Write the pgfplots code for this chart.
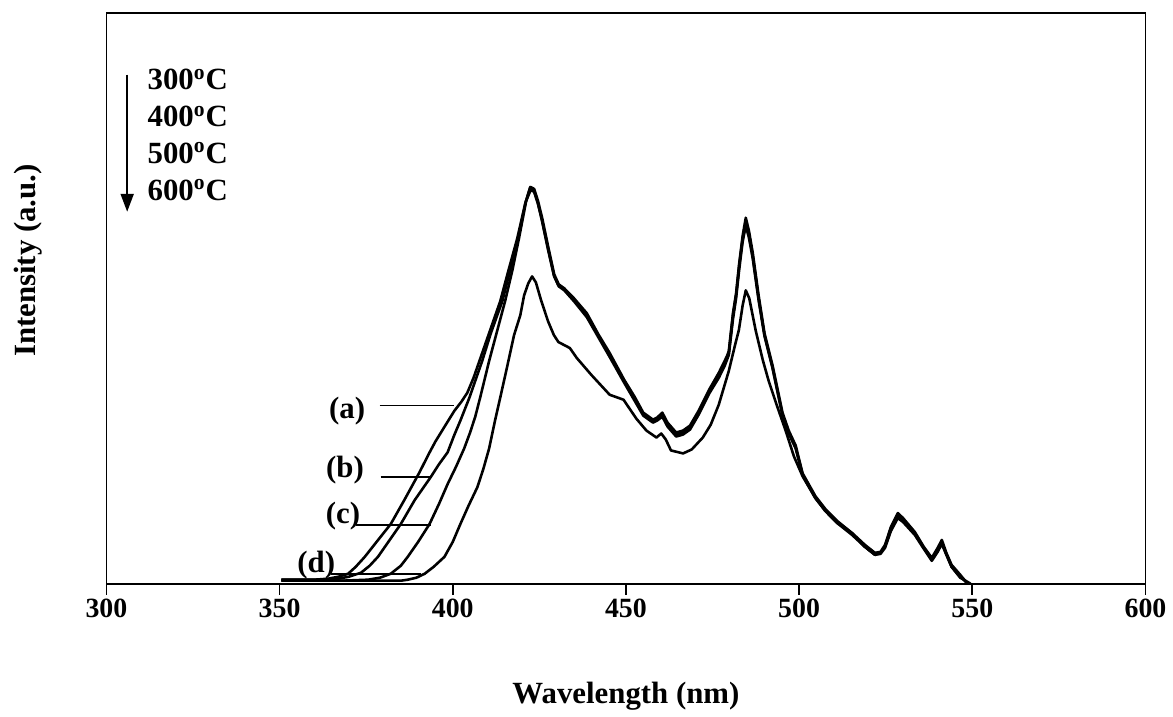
\documentclass[border=0pt]{standalone}
\usepackage{fontspec}
\setmainfont{Liberation Serif}
\usepackage{pgfplots}
\usepackage{pgfplotstable}
\pgfplotsset{compat=1.18}
\usetikzlibrary{arrows.meta}

\pgfplotstableread{
x y
350.5 4
360.0 4
364.0 5
367.0 7
369.8 10
372.0 17
374.6 27
378.0 42
382.1 60
386.0 84
390.4 112
393.0 130
395.0 143
398.0 160
400.5 174
402.5 183
404.2 192
406.0 207
407.7 224
410.5 252
413.7 284
416.0 314
418.6 347
420.9 382
422.3 398
423.4 396
424.5 384
425.7 366
427.5 336
429.2 310
430.5 300
432.1 296
435.0 285
438.7 270
442.0 250
445.3 230
449.5 204
452.5 186
455.0 170
457.8 163
459.0 165
460.5 170
462.0 160
464.5 150
466.5 152
468.5 157
471.0 172
474.0 193
476.8 210
478.5 222
479.7 232
480.9 270
481.8 290
482.7 320
483.7 347
484.6 365
485.5 352
486.6 330
488.3 287
490.0 250
492.3 218
495.2 170
497.0 152
499.0 137
501.0 110
504.7 87
507.6 74
511.0 62
515.3 50
519.0 38
521.9 30
523.5 31
524.8 37
526.5 55
528.5 68
530.0 64
533.4 50
536.0 36
538.3 25
540.0 34
541.2 42
542.5 30
544.0 18
546.5 8
548.6 0
}\dataA

\pgfplotstableread{
x y
350.5 4
362.0 4
366.9 5
370.0 7
373.5 11
376.0 18
378.4 27
382.0 45
385.0 60
389.0 84
393.6 107
396.0 120
398.5 132
400.5 150
402.2 164
404.8 187
406.5 204
408.5 224
411.0 252
414.3 284
416.5 314
419.0 349
421.0 383
422.4 399
423.5 397
424.6 385
425.8 368
427.6 338
429.3 311
430.6 301
432.2 297
435.0 287
438.7 272
442.0 251
445.3 232
449.5 205
452.5 188
455.0 172
457.8 165
459.0 167
460.5 172
462.0 162
464.5 152
466.5 154
468.5 159
471.0 174
474.0 195
476.8 212
478.5 224
479.3 230
479.7 234
480.9 272
481.8 292
482.7 322
483.7 350
484.6 368
485.5 355
486.6 333
488.3 290
490.0 252
492.3 220
495.2 172
497.0 154
499.0 139
501.0 111
504.7 88
507.6 75
511.0 63
515.3 51
519.0 39
521.9 31
523.5 32
524.8 39
526.5 57
528.5 71
530.0 66
533.4 52
536.0 37
538.3 26
540.0 36
541.2 44
542.5 31
544.0 19
546.5 9
548.6 0
}\dataB

\pgfplotstableread{
x y
350.5 3
368.0 3
375.5 4
379.0 6
382.1 10
385.0 18
387.0 27
390.0 42
393.3 60
396.0 80
398.5 100
401.0 118
403.3 136
405.0 152
406.5 168
407.9 187
410.5 224
412.8 254
415.1 284
417.2 315
419.1 347
421.2 385
422.5 396
423.5 394
424.6 382
425.8 365
427.6 336
429.3 309
430.6 299
432.2 295
435.0 284
438.7 268
442.0 248
445.3 228
449.5 202
452.5 184
455.0 169
457.8 162
459.0 164
460.5 168
462.0 158
464.5 148
466.5 150
468.5 155
471.0 170
474.0 191
476.8 207
478.5 219
479.7 230
480.9 266
481.8 287
482.7 316
483.7 344
484.6 360
485.5 348
486.6 327
488.3 285
490.0 249
492.3 217
495.2 169
497.0 151
499.0 136
501.0 109
504.7 86
507.6 73
511.0 61
515.3 49
519.0 37
521.9 29
523.5 30
524.8 36
526.5 53
528.5 66
530.0 62
533.4 49
536.0 35
538.3 23
540.0 32
541.2 40
542.5 29
544.0 17
546.5 7
549.0 0
}\dataC

\pgfplotstableread{
x y
350.5 3
375.0 3
381.2 3
385.0 3
387.0 4
389.5 6
391.9 10
394.5 17
397.6 27
400.0 42
402.2 60
404.5 78
407.1 97
408.8 115
410.5 136
412.2 164
413.7 187
415.5 215
417.7 250
419.5 270
420.6 290
421.8 302
422.9 309
424.0 303
425.5 285
427.5 264
429.2 250
430.5 243
433.8 237
435.8 227
440.0 210
445.3 190
449.3 185
453.0 166
455.9 154
458.8 147
460.2 151
461.5 145
463.0 134
466.5 131
469.0 135
472.2 147
474.5 160
476.8 180
479.7 214
481.5 240
482.6 255
483.7 280
484.6 295
485.6 287
487.5 254
489.5 225
491.2 204
493.5 180
496.1 154
498.5 128
501.0 108
504.7 86
507.6 73
511.0 61
515.3 50
519.0 37
521.9 29
523.5 31
524.8 38
526.5 56
528.5 70
530.0 65
533.4 51
536.0 36
538.3 24
540.0 33
541.2 41
542.5 30
544.0 17
546.5 6
549.5 0
}\dataD

\begin{document}
\begin{tikzpicture}
\begin{axis}[name=ax, scale only axis, width=522.5pt, height=287pt,
  xmin=300, xmax=600, ymin=0, ymax=574,
  xtick={300,350,400,450,500,550,600}, ytick=\empty,
  xtick pos=bottom, xtick align=outside, major tick length=0pt,
  axis line style={line width=0.9pt},
  /pgf/number format/assume math mode=true,
  xticklabel style={font=\fontsize{14}{16}\selectfont\bfseries, anchor=center, yshift=-12.5pt},
  xlabel={Wavelength (nm)},
  xlabel style={at={(axis description cs:0.5,0)}, anchor=center, yshift=-56.5pt, font=\fontsize{15.5}{18}\selectfont\bfseries},
  ylabel={Intensity (a.u.)},
  ylabel style={at={(axis description cs:0,0.566)}, anchor=center, yshift=39.5pt, font=\fontsize{15.5}{18}\selectfont\bfseries},
  clip=false
]
\addplot[black, line width=1.3pt, line join=round] table {\dataA};
\addplot[black, line width=1.3pt, line join=round] table {\dataB};
\addplot[black, line width=1.3pt, line join=round] table {\dataC};
\addplot[black, line width=1.3pt, line join=round] table {\dataD};

\begin{scope}[font=\fontsize{15.5}{18}\selectfont\bfseries]
\node[anchor=west, inner sep=0pt] at (axis cs:311.8,507) {300\textsuperscript{o}C};
\node[anchor=west, inner sep=0pt] at (axis cs:311.8,470) {400\textsuperscript{o}C};
\node[anchor=west, inner sep=0pt] at (axis cs:311.8,433) {500\textsuperscript{o}C};
\node[anchor=west, inner sep=0pt] at (axis cs:311.8,396) {600\textsuperscript{o}C};
\draw[line width=1pt, -{Triangle[length=9pt,width=6.5pt]}] (axis cs:306,512) -- (axis cs:306,374);

\node[inner sep=0pt] at (axis cs:369.5,174) {(a)};
\node[inner sep=0pt] at (axis cs:368.9,114) {(b)};
\node[inner sep=0pt] at (axis cs:368.3,68) {(c)};
\node[inner sep=0pt] at (axis cs:360.6,19) {(d)};
\end{scope}
\draw[line width=0.8pt] (axis cs:378.9,179) -- (axis cs:400.5,179);
\draw[line width=0.8pt] (axis cs:379.2,107) -- (axis cs:393.6,107);
\draw[line width=0.8pt] (axis cs:372.1,59) -- (axis cs:393.6,59);
\draw[line width=0.8pt] (axis cs:364.9,10) -- (axis cs:390.7,10);
\end{axis}
\foreach \dx in {0,87.083,174.167,261.25,348.333,435.417,522.5}{
  \draw[line width=0.9pt] ([xshift=\dx pt]ax.south west) -- ([xshift=\dx pt, yshift=-5.5pt]ax.south west);
}
\path ([xshift=-53.5pt,yshift=-60.5pt]ax.south west) rectangle ([xshift=10.5pt,yshift=6.5pt]ax.north east);
\end{tikzpicture}
\end{document}
